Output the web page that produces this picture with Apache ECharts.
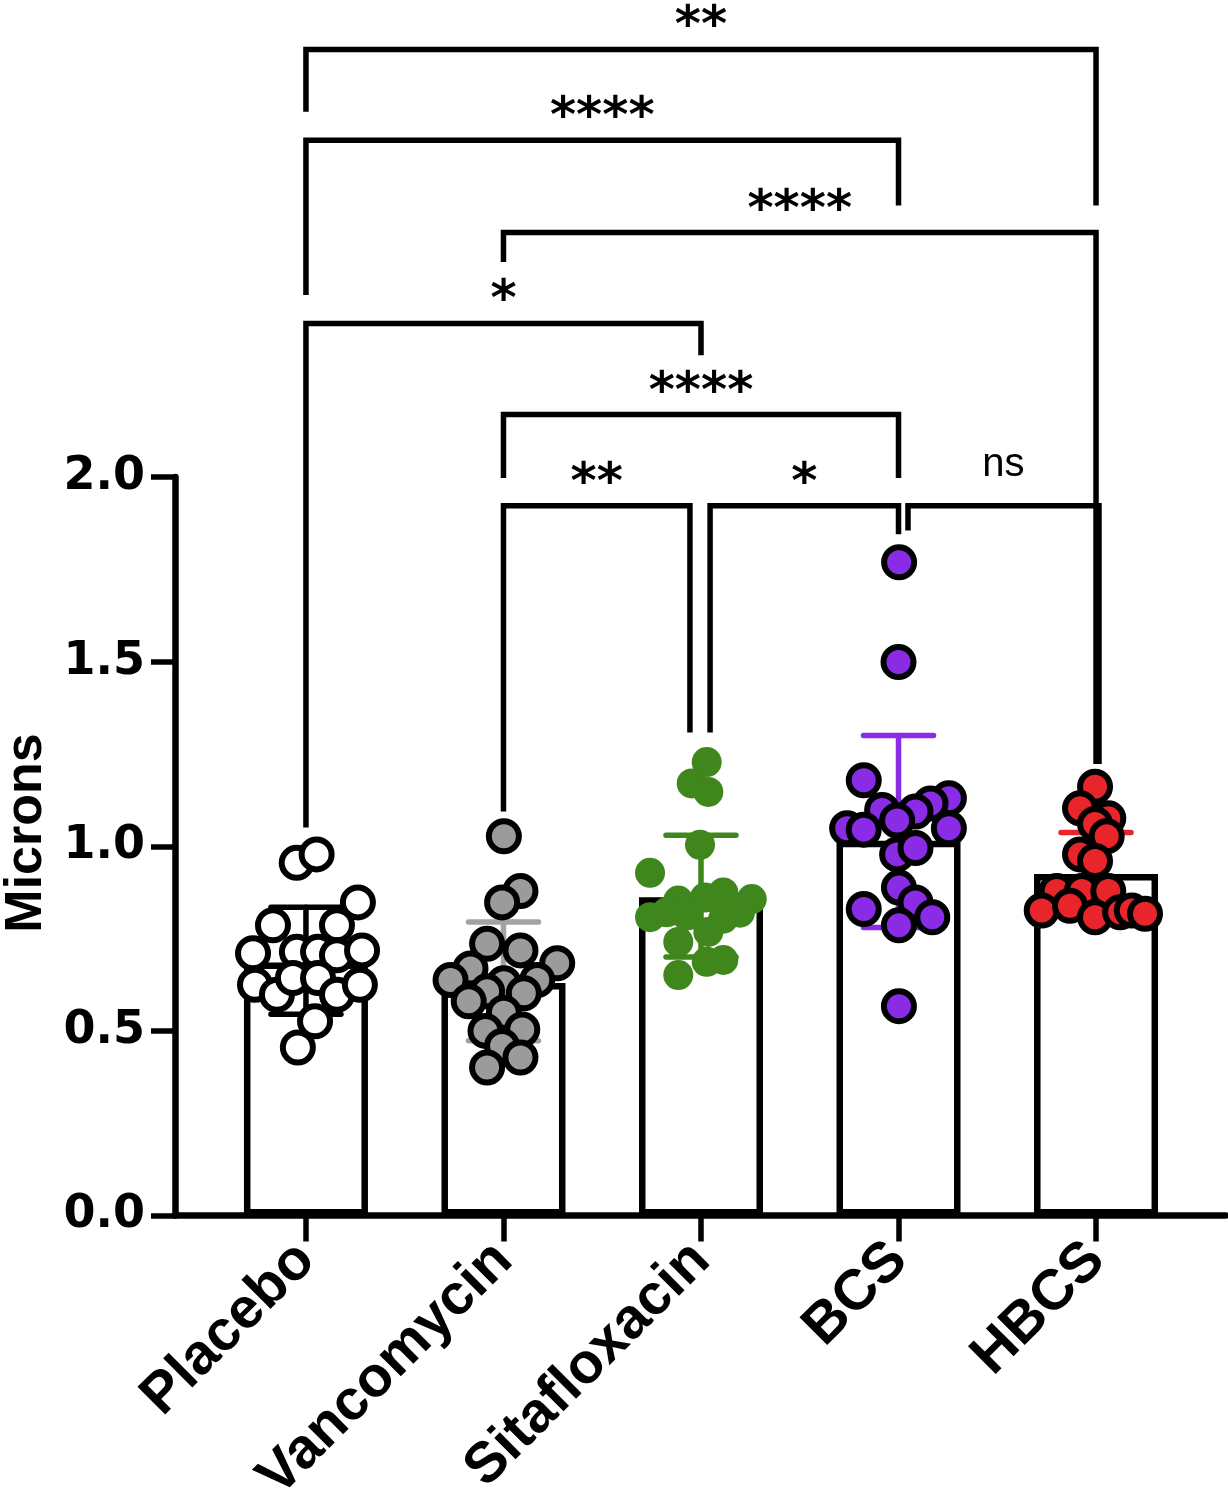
<!doctype html>
<html lang="en">
<head>
<meta charset="UTF-8">
<title>Microns by group</title>
<style>
  html, body { margin: 0; padding: 0; background: #fff; }
  #main { width: 1228px; height: 1509px; }
</style>
</head>
<body>
<div id="main"></div>
<script src="https://cdn.jsdelivr.net/npm/echarts@6/dist/echarts.min.js"></script>
<script>
// groups on the x axis
const categories = ['Placebo', 'Vancomycin', 'Sitafloxacin', 'BCS', 'HBCS'];
// bar heights (group means)
const barMeans = [0.685, 0.630, 0.862, 1.015, 0.925];
// error bars [low, high]
const errLow  = [0.545, 0.473, 0.700, 0.780, 0.813];
const errHigh = [0.835, 0.795, 1.030, 1.300, 1.037];
// individual animals: [horizontal jitter in group widths, value]
const placeboPts = [
  [-0.047, 0.955], [0.054, 0.978], [0.263, 0.848], [-0.167, 0.786], [0.157, 0.786],
  [-0.268, 0.710], [-0.046, 0.714], [0.061, 0.714], [0.157, 0.705], [0.284, 0.718],
  [-0.258, 0.625], [-0.147, 0.598], [-0.066, 0.643], [0.061, 0.643], [0.157, 0.598],
  [0.273, 0.625], [0.046, 0.526], [-0.041, 0.455]
];
const vancoPts = [
  [0.002, 1.027], [0.086, 0.879], [-0.007, 0.848], [-0.083, 0.736], [0.086, 0.718],
  [0.272, 0.683], [-0.167, 0.669], [-0.268, 0.638], [0.002, 0.629], [0.171, 0.638],
  [0.103, 0.602], [-0.083, 0.607], [-0.176, 0.580], [0.002, 0.549], [-0.091, 0.500],
  [0.095, 0.504], [-0.007, 0.459], [0.086, 0.428], [-0.083, 0.401]
];
const sitaPts = [
  [0.029, 1.228], [-0.047, 1.170], [0.037, 1.147], [-0.005, 1.004], [-0.258, 0.928],
  [0.113, 0.875], [0.257, 0.857], [-0.115, 0.853], [0.020, 0.861], [-0.258, 0.808],
  [-0.174, 0.821], [-0.072, 0.812], [0.113, 0.804], [0.197, 0.820], [0.037, 0.768],
  [-0.115, 0.741], [0.029, 0.687], [0.113, 0.692], [-0.115, 0.651]
];
const bcsPts = [
  [0.003, 1.769], [0.000, 1.499], [-0.176, 1.179], [0.255, 1.130], [0.162, 1.116],
  [-0.083, 1.098], [0.086, 1.094], [-0.007, 1.070], [-0.260, 1.049], [-0.176, 1.045],
  [0.255, 1.049], [-0.007, 0.978], [0.086, 0.995], [0.002, 0.888], [0.086, 0.848],
  [-0.176, 0.830], [0.171, 0.808], [0.002, 0.786], [0.002, 0.567]
];
const hbcsPts = [
  [-0.005, 1.161], [-0.081, 1.103], [0.062, 1.076], [-0.005, 1.060], [0.054, 1.027],
  [-0.081, 0.978], [-0.005, 0.960], [-0.199, 0.879], [-0.072, 0.879], [0.062, 0.879],
  [-0.275, 0.826], [-0.132, 0.839], [-0.005, 0.808], [0.122, 0.821], [0.181, 0.826],
  [0.248, 0.817]
];
// significance brackets: [from group, to group, bracket level, left leg end, right leg end]
const brackets = [
  [0, 4, 3.158, 2.989, 2.735],
  [0, 3, 2.912, 2.493, 2.735],
  [1, 4, 2.662, 2.582, 1.223],
  [0, 2, 2.416, 1.051, 2.330],
  [1, 3, 2.169, 1.997, 1.997],
  [1, 1.944, 1.922, 1.094, 1.308],
  [2.046, 3, 1.922, 1.308, 1.845],
  [3.048, 4.015, 1.922, 1.855, 1.223]
];
const bracketLabels = ['**', '****', '****', '*', '****', '**', '*', 'ns'];

const pointFill = ['#ffffff', '#9b9b9b', '#3f861d', '#8a2be6', '#e8252b'];
const errColor  = ['#000000', '#a3a3a3', '#3f861d', '#8a2be6', '#e8252b'];
const groups = [placeboPts, vancoPts, sitaPts, bcsPts, hbcsPts];

let myChart = echarts.init(document.getElementById('main'));

let scatterSeries = groups.map(function (pts, g) {
  return {
    type: 'scatter',
    z: 3,
    symbol: 'circle',
    symbolSize: 30,
    itemStyle: {
      color: pointFill[g],
      borderColor: '#000',
      borderWidth: g === 2 ? 0 : 6,
      opacity: 1
    },
    data: pts.map(function (p) { return [g + p[0], p[1]]; })
  };
});

let option = {
  animation: false,
  backgroundColor: '#ffffff',
  grid: { left: 175, right: 2, top: 477, bottom: 284 },
  xAxis: {
    type: 'value',
    min: -0.663,
    max: 4.658,
    splitLine: { show: false },
    axisLine: { show: true, onZero: false, lineStyle: { color: '#000', width: 6.5 } },
    axisTick: {
      show: true, customValues: [0, 1, 2, 3, 4], length: 26,
      lineStyle: { color: '#000', width: 5.5 }
    },
    axisLabel: {
      customValues: [0, 1, 2, 3, 4],
      formatter: function (v) { return categories[Math.round(v)]; },
      rotate: 45,
      margin: 36,
      color: '#000',
      fontFamily: 'Liberation Sans',
      fontWeight: 'bold',
      fontSize: 57
    }
  },
  yAxis: {
    type: 'value',
    min: 0,
    max: 2,
    interval: 0.5,
    splitLine: { show: false },
    axisLine: { show: true, onZero: false, lineStyle: { color: '#000', width: 6.5 } },
    axisTick: { show: true, length: 24, lineStyle: { color: '#000', width: 5.5 } },
    axisLabel: {
      formatter: function (v) { return v.toFixed(1); },
      margin: 30,
      color: '#000',
      fontFamily: 'DejaVu Sans',
      fontWeight: 'bold',
      fontSize: 46
    }
  },
  graphic: [{
    type: 'text',
    x: 27,
    y: 833,
    rotation: Math.PI / 2,
    style: {
      text: 'Microns',
      fill: '#000',
      fontFamily: 'Liberation Sans',
      fontWeight: 'bold',
      fontSize: 52,
      align: 'center',
      verticalAlign: 'middle'
    }
  }],
  series: [
    {
      type: 'bar',
      z: 1,
      barWidth: 124,
      itemStyle: { color: '#fff', borderColor: '#000', borderWidth: 6.5 },
      data: barMeans.map(function (m, i) { return [i, m]; })
    },
    {
      type: 'custom',
      z: 2,
      clip: false,
      data: barMeans.map(function (m, i) { return [i, errLow[i], errHigh[i]]; }),
      renderItem: function (params, api) {
        let x = api.value(0);
        let lo = api.coord([x, api.value(1)]);
        let hi = api.coord([x, api.value(2)]);
        let half = 35;
        let st = { stroke: errColor[params.dataIndex], lineWidth: 5.5, lineCap: 'round' };
        return {
          type: 'group',
          children: [
            { type: 'line', shape: { x1: lo[0], y1: lo[1], x2: hi[0], y2: hi[1] }, style: st },
            { type: 'line', shape: { x1: hi[0] - half, y1: hi[1], x2: hi[0] + half, y2: hi[1] }, style: st },
            { type: 'line', shape: { x1: lo[0] - half, y1: lo[1], x2: lo[0] + half, y2: lo[1] }, style: st }
          ]
        };
      }
    }
  ].concat(scatterSeries).concat([
    {
      type: 'custom',
      z: 4,
      clip: false,
      data: brackets,
      renderItem: function (params, api) {
        let x1 = api.value(0), x2 = api.value(1);
        let top = api.value(2);
        let a = api.coord([x1, api.value(3)]);
        let b = api.coord([x1, top]);
        let c = api.coord([x2, top]);
        let d = api.coord([x2, api.value(4)]);
        let label = bracketLabels[params.dataIndex];
        let isNs = label === 'ns';
        return {
          type: 'group',
          children: [
            {
              type: 'polyline',
              shape: { points: [a, b, c, d] },
              style: { stroke: '#000', lineWidth: 5.5, fill: null, lineJoin: 'miter' }
            },
            {
              type: 'text',
              x: (b[0] + c[0]) / 2,
              y: b[1] + (isNs ? -41 : -21),
              style: {
                text: label,
                fill: '#000',
                fontFamily: isNs ? 'Liberation Sans' : 'DejaVu Sans',
                fontWeight: isNs ? 'normal' : 'bold',
                fontSize: isNs ? 40 : 50,
                align: 'center',
                verticalAlign: 'middle'
              }
            }
          ]
        };
      }
    }
  ])
};
myChart.setOption(option);
</script>
</body>
</html>
